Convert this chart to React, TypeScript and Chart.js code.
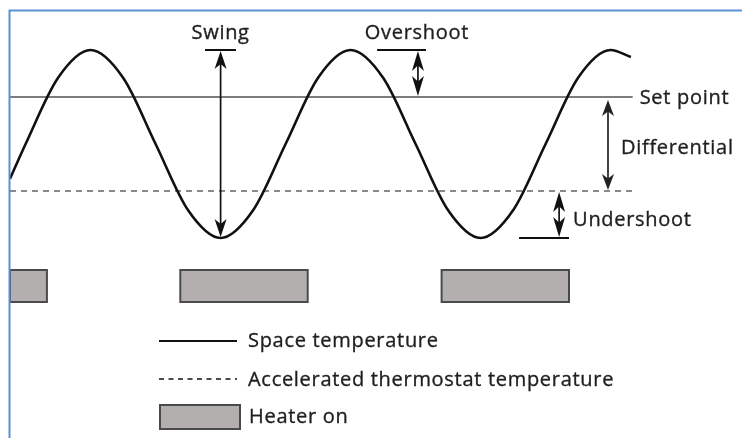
import { useEffect, useRef } from 'react';
import { Chart, registerables } from 'chart.js';
Chart.register(...registerables);

// time in minutes, temperature in °C
const timeMin = [0, 0.6, 1.85, 3.1, 4.35, 5.6, 6.85, 8.1, 9.35, 10.6, 11.85, 13.1, 14.35, 15.6, 16.85, 18.1, 19.35, 20.6, 21.85, 23.1, 23.88];
const spaceTemp = [18.26, 19.0, 20.41, 21.0, 20.41, 19.0, 17.59, 17.0, 17.59, 19.0, 20.41, 21.0, 20.41, 19.0, 17.59, 17.0, 17.59, 19.0, 20.41, 21.0, 20.85];
const setPoint = 20;
const thermostatTemp = 18;
const peakTemp = 21;
const troughTemp = 17;
const lineStart = 0;
const lineEnd = 23.95;
const heaterStart = [0, 6.55, 16.6];
const heaterEnd = [1.42, 11.45, 21.5];
const swingAt = 8.1;
const swingBar = [7.5, 8.69];
const overshootAt = 15.69;
const overshootBar = [14.12, 16.0];
const differentialAt = 23.0;
const undershootAt = 21.12;
const undershootBar = [19.58, 21.5];
const legendLabels = ['Space temperature', 'Accelerated thermostat temperature', 'Heater on'];

const FONT = '20px "Open Sans"';
const TEXT = '#1f1f1f';

function head(ctx: CanvasRenderingContext2D, x: number, tipY: number, dir: number, len: number, hw: number) {
  ctx.beginPath();
  ctx.moveTo(x, tipY);
  ctx.lineTo(x - hw, tipY - dir * len);
  ctx.lineTo(x, tipY - dir * len * 0.72);
  ctx.lineTo(x + hw, tipY - dir * len);
  ctx.closePath();
  ctx.fill();
}

function dblArrow(ctx: CanvasRenderingContext2D, x: number, y1: number, y2: number, color: string, len: number, hw: number) {
  ctx.save();
  ctx.strokeStyle = color;
  ctx.fillStyle = color;
  ctx.lineWidth = 1.7;
  ctx.beginPath();
  ctx.moveTo(x, y1 + len * 0.6);
  ctx.lineTo(x, y2 - len * 0.6);
  ctx.stroke();
  head(ctx, x, y1, -1, len, hw);
  head(ctx, x, y2, 1, len, hw);
  ctx.restore();
}

function hbar(ctx: CanvasRenderingContext2D, x1: number, x2: number, y: number, color: string) {
  ctx.save();
  ctx.strokeStyle = color;
  ctx.lineWidth = 2;
  ctx.beginPath();
  ctx.moveTo(x1, y);
  ctx.lineTo(x2, y);
  ctx.stroke();
  ctx.restore();
}

function text(ctx: CanvasRenderingContext2D, s: string, x: number, y: number, align: CanvasTextAlign) {
  ctx.save();
  ctx.font = FONT;
  (ctx as any).letterSpacing = '0.7px';
  ctx.fillStyle = TEXT;
  ctx.strokeStyle = TEXT;
  ctx.lineWidth = 0.35;
  ctx.textAlign = align;
  ctx.textBaseline = 'middle';
  ctx.fillText(s, x, y);
  ctx.strokeText(s, x, y);
  ctx.restore();
}

const diagramPlugin = {
  id: 'diagram',
  afterDatasetsDraw(chart: any) {
    const ctx: CanvasRenderingContext2D = chart.ctx;
    const xs = chart.scales.x;
    const ys = chart.scales.y;
    const X = (v: number) => xs.getPixelForValue(v);
    const Y = (v: number) => ys.getPixelForValue(v);

    // heater bars
    ctx.save();
    for (let i = 0; i < heaterStart.length; i++) {
      const x1 = X(heaterStart[i]);
      const x2 = X(heaterEnd[i]);
      ctx.fillStyle = '#b4afaf';
      ctx.fillRect(x1, 270, x2 - x1, 32);
      ctx.strokeStyle = '#4a4a4a';
      ctx.lineWidth = 2;
      ctx.strokeRect(x1, 270, x2 - x1, 32);
    }
    ctx.restore();

    // swing
    hbar(ctx, X(swingBar[0]), X(swingBar[1]), Y(peakTemp), '#111');
    dblArrow(ctx, X(swingAt), Y(peakTemp) + 1, Y(troughTemp) - 1, '#111', 18, 6);
    text(ctx, 'Swing', X(swingAt), Y(peakTemp) - 17, 'center');

    // overshoot
    hbar(ctx, X(overshootBar[0]), X(overshootBar[1]), Y(peakTemp), '#111');
    dblArrow(ctx, X(overshootAt), Y(peakTemp) + 1, Y(setPoint) - 1, '#111', 20, 6);
    text(ctx, 'Overshoot', X(overshootAt) - 1, Y(peakTemp) - 17, 'center');

    // set point label
    text(ctx, 'Set point', X(lineEnd) + 7, Y(setPoint) + 1, 'left');

    // differential
    dblArrow(ctx, X(differentialAt), Y(setPoint) + 3, Y(thermostatTemp) - 1, '#222', 16, 6);
    text(ctx, 'Differential', X(differentialAt) + 13, (Y(setPoint) + Y(thermostatTemp)) / 2 + 4, 'left');

    // undershoot
    hbar(ctx, X(undershootBar[0]), X(undershootBar[1]), Y(troughTemp), '#111');
    dblArrow(ctx, X(undershootAt), Y(thermostatTemp) + 1, Y(troughTemp) - 1, '#111', 20, 6);
    text(ctx, 'Undershoot', X(undershootAt) + 14, Y(troughTemp) - 18, 'left');

    // legend
    ctx.save();
    ctx.strokeStyle = '#111';
    ctx.lineWidth = 2;
    ctx.beginPath();
    ctx.moveTo(159, 341);
    ctx.lineTo(237, 341);
    ctx.stroke();
    ctx.setLineDash([5, 4.5]);
    ctx.lineWidth = 1.6;
    ctx.beginPath();
    ctx.moveTo(159, 379);
    ctx.lineTo(237, 379);
    ctx.stroke();
    ctx.setLineDash([]);
    ctx.fillStyle = '#b4afaf';
    ctx.fillRect(160, 405, 80, 24);
    ctx.strokeStyle = '#4a4a4a';
    ctx.lineWidth = 2;
    ctx.strokeRect(160, 405, 80, 24);
    ctx.restore();
    text(ctx, legendLabels[0], 248, 341, 'left');
    text(ctx, legendLabels[1], 248, 380, 'left');
    text(ctx, legendLabels[2], 249, 417, 'left');

    // frame
    ctx.save();
    ctx.strokeStyle = '#5b8fd4';
    ctx.lineWidth = 2;
    ctx.beginPath();
    ctx.moveTo(9.5, 438);
    ctx.lineTo(9.5, 10.5);
    ctx.lineTo(742, 10.5);
    ctx.stroke();
    ctx.restore();
  },
};

export default function App() {
  const ref = useRef<HTMLCanvasElement>(null);
  useEffect(() => {
    let chart: Chart | null = null;
    let cancelled = false;
    const make = () => {
      if (cancelled || !ref.current) return;
      chart = new Chart(ref.current, {
        type: 'line',
        data: {
          datasets: [
            {
              label: 'Space temperature',
              data: timeMin.map((t, i) => ({ x: t, y: spaceTemp[i] })),
              borderColor: '#111',
              borderWidth: 2.6,
              cubicInterpolationMode: 'monotone',
              pointRadius: 0,
              fill: false,
              order: 0,
            },
            {
              label: 'Set point',
              data: [{ x: lineStart, y: setPoint }, { x: lineEnd, y: setPoint }],
              borderColor: '#7d7d7d',
              borderWidth: 2.2,
              pointRadius: 0,
              fill: false,
              order: 1,
            },
            {
              label: 'Accelerated thermostat temperature',
              data: [{ x: lineStart, y: thermostatTemp }, { x: lineEnd, y: thermostatTemp }],
              borderColor: '#8a8a8a',
              borderWidth: 2,
              borderDash: [6, 5],
              pointRadius: 0,
              fill: false,
              order: 2,
            },
          ],
        },
        options: {
          animation: false,
          responsive: false,
          devicePixelRatio: 1,
          layout: { padding: { left: 10, right: 108, top: 3, bottom: 129.5 } },
          scales: {
            x: { type: 'linear', min: 0, max: 24, display: false },
            y: { type: 'linear', min: 15.5, max: 22, display: false },
          },
          plugins: { legend: { display: false }, tooltip: { enabled: false } },
          events: [],
        },
        plugins: [diagramPlugin],
      });
    };
    (document as any).fonts.load(FONT).then(make, make);
    return () => {
      cancelled = true;
      if (chart) chart.destroy();
    };
  }, []);
  return (
    <div style={{ position: 'fixed', left: 0, top: 0, width: 742, height: 438, background: '#fff' }}>
      <canvas ref={ref} width={742} height={438} style={{ display: 'block' }} />
    </div>
  );
}
